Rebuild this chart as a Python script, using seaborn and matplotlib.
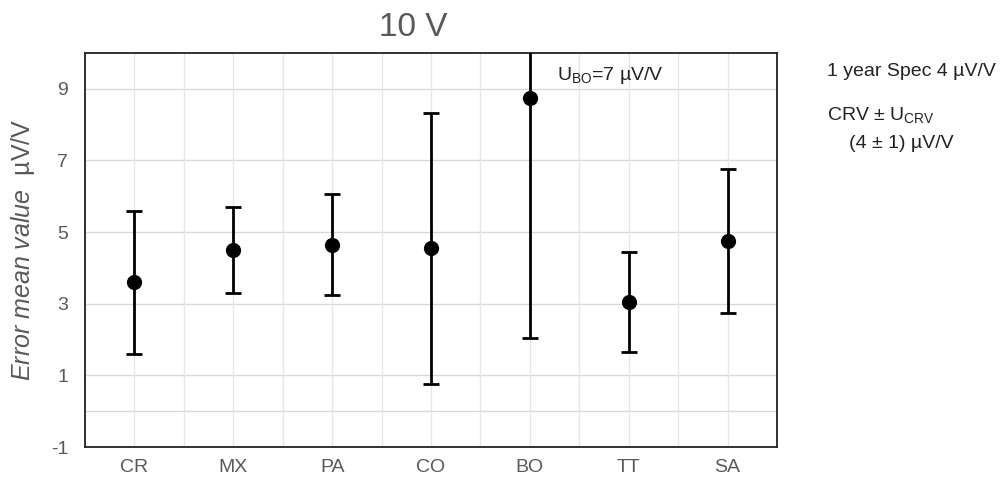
import matplotlib
matplotlib.use("Agg")
import matplotlib.pyplot as plt
import seaborn as sns
import pandas as pd
import numpy as np

categories = ["CR", "MX", "PA", "CO", "BO", "TT", "SA"]
means = [3.6, 4.5, 4.65, 4.55, 8.75, 3.05, 4.75]
uncert = [2.0, 1.2, 1.42, 3.78, 6.7, 1.4, 2.0]
yticks = [-1, 1, 3, 5, 7, 9]

sns.set_theme(style="white")
plt.rcParams["font.family"] = ["Liberation Sans", "DejaVu Sans"]
plt.rcParams["mathtext.fontset"] = "custom"
plt.rcParams["mathtext.rm"] = "Liberation Sans"
plt.rcParams["mathtext.it"] = "Liberation Sans:italic"

df = pd.DataFrame({"cat": categories, "mean": means, "u": uncert})

fig = plt.figure(figsize=(10.04, 4.88), dpi=100)
ax = fig.add_axes([85 / 1004, 1 - 447 / 488, 692 / 1004, 394 / 488])

ax.errorbar(df["cat"], df["mean"], yerr=df["u"], fmt="none", ecolor="black",
            elinewidth=2, capsize=5.5, capthick=2, zorder=3)
sns.scatterplot(data=df, x="cat", y="mean", color="black", s=120,
                edgecolor="black", linewidth=0, zorder=4, ax=ax, legend=False)

ax.set_xlim(-0.5, len(categories) - 0.5)
ax.set_ylim(-1, 10)
ax.set_yticks(yticks)
ax.set_yticklabels([str(t) for t in yticks])
# grid lines
for y in [0, 1, 3, 5, 7, 9]:
    ax.axhline(y, color="#d9d9d9", lw=1, zorder=0)
for x in np.arange(-0.5, len(categories), 0.5):
    ax.axvline(x, color="#e6e6e6", lw=1, zorder=0)

for sp in ax.spines.values():
    sp.set_color("#222222")
    sp.set_linewidth(1.3)
ax.tick_params(axis="y", length=0, labelsize=14, colors="#595959", pad=12)
ax.tick_params(axis="x", length=0, labelsize=14, colors="#595959", pad=9)
ax.set_xlabel("")
ax.set_ylabel(r"$\mathit{Error\ mean\ value}$  µV/V", fontsize=18, color="#595959", labelpad=10)

ax.set_title("10 V", fontsize=24, color="#595959", pad=12, x=0.474)

ax.text(4.27, 9.38, r"U$_{\mathrm{BO}}$=7 µV/V", fontsize=14, color="#222222", va="center", ha="left")

fig.text(827 / 1004, 1 - 72 / 488, "1 year Spec 4 µV/V", fontsize=14, color="#222222", va="center")
fig.text(827 / 1004, 1 - 115 / 488, r"CRV ± U$_{\mathrm{CRV}}$", fontsize=14, color="#222222", va="center")
fig.text(849 / 1004, 1 - 143 / 488, "(4 ± 1) µV/V", fontsize=14, color="#222222", va="center")

fig.savefig("out.png", dpi=100)
